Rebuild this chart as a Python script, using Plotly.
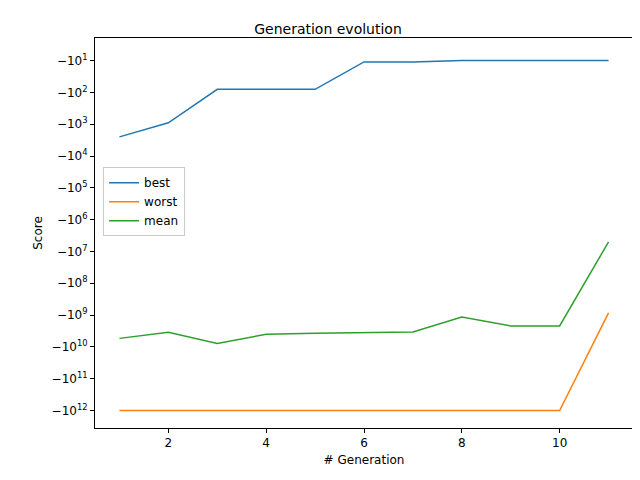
import numpy as np
import plotly.graph_objects as go

generations = list(range(1, 12))
best = [-2500, -900, -80, -80, -80, -11, -11, -10, -10, -10, -10]
worst = [-1e12] * 10 + [-8.5e8]
mean = [-5.4e9, -3.5e9, -7.8e9, -4e9, -3.7e9, -3.5e9, -3.4e9, -1.15e9, -2.2e9, -2.2e9, -5e6]

tick_exps = list(range(1, 13))
tick_text = ["\u221210<sup>%d</sup>" % k for k in tick_exps]


def to_axis(vals):
    # symlog-like: magnitude on log scale, axis reversed
    return np.log10(-np.array(vals, dtype=float))


fig = go.Figure()
for name, vals, col in [("best", best, "#1f77b4"), ("worst", worst, "#ff7f0e"), ("mean", mean, "#2ca02c")]:
    fig.add_trace(go.Scatter(x=generations, y=to_axis(vals), name=name, mode="lines",
                             line=dict(color=col, width=1.5)))

axis_style = dict(showline=True, linecolor="black", mirror=True, ticks="outside",
                  ticklen=4, tickcolor="black", showgrid=False, zeroline=False,
                  automargin=False, tickfont=dict(size=12, color="black"))
fig.update_layout(
    width=640, height=480,
    margin=dict(l=87, r=15, t=30, b=60),
    plot_bgcolor="white", paper_bgcolor="white",
    font=dict(family="DejaVu Sans", color="black"),
    title=dict(text="Generation evolution", x=0.5, xanchor="center", y=1 - 21 / 480,
               yanchor="middle", font=dict(size=14)),
    xaxis=dict(range=[0.5, 11.5], tickvals=[2, 4, 6, 8, 10],
               title=dict(text="# Generation", font=dict(size=12), standoff=6), **axis_style),
    yaxis=dict(range=[12.55, 0.29], tickvals=tick_exps, ticktext=tick_text,
               title=dict(text="Score", font=dict(size=12), standoff=6), **axis_style),
    legend=dict(x=0.015, y=0.58, xanchor="left", yanchor="middle", bgcolor="white",
                bordercolor="#cccccc", borderwidth=1, font=dict(size=12)),
)

fig.write_html("out.html")
